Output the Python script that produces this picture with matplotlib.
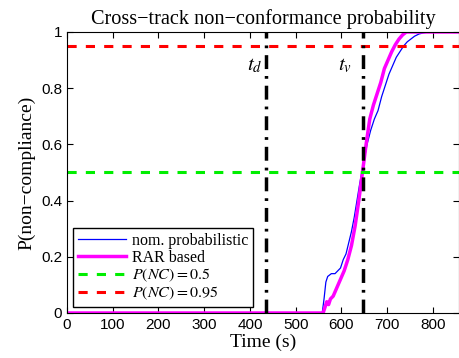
import matplotlib
matplotlib.use("Agg")
import matplotlib.pyplot as plt

# data
t_nom = [0, 558, 562, 566, 570, 578, 586, 592, 598, 604, 610, 616, 622, 628, 634, 640, 648,
         656, 664, 672, 680, 688, 696, 704, 712, 720, 728, 736, 744, 752, 760, 770, 780, 790, 860]
p_nom = [0, 0, 0.05, 0.11, 0.13, 0.14, 0.14, 0.15, 0.16, 0.19, 0.21, 0.25, 0.29, 0.34, 0.40,
         0.46, 0.53, 0.60, 0.65, 0.69, 0.72, 0.77, 0.81, 0.85, 0.88, 0.91, 0.93, 0.95, 0.965,
         0.975, 0.985, 0.993, 0.997, 1.0, 1.0]

t_rar = [0, 560, 564, 568, 572, 576, 582, 590, 598, 606, 614, 622, 630, 638, 646, 654, 662,
         670, 678, 686, 694, 702, 710, 718, 726, 734, 742, 860]
p_rar = [0, 0, 0.02, 0.04, 0.03, 0.05, 0.06, 0.09, 0.12, 0.15, 0.19, 0.24, 0.31, 0.40, 0.50,
         0.60, 0.69, 0.74, 0.78, 0.82, 0.87, 0.90, 0.93, 0.955, 0.975, 0.99, 1.0, 1.0]

t_d = 435
t_v = 647
thresholds = [0.5, 0.95]
threshold_colors = ['#00ee00', '#ff0000']

plt.rcParams['font.family'] = 'Liberation Sans'
plt.rcParams['mathtext.fontset'] = 'stix'

fig = plt.figure(figsize=(4.6, 3.58), dpi=100)
ax = fig.add_axes([0.1457, 0.1257, 0.852, 0.785])

ax.plot(t_nom, p_nom, color='#0000ff', lw=0.9, label='nom. probabilistic')
ax.plot(t_rar, p_rar, color='#ff00ff', lw=2.5, label='RAR based')
for th, c in zip(thresholds, threshold_colors):
    ax.axhline(th, color=c, lw=2.2, ls=(0, (3, 3)), label=r'$P(NC) = %s$' % th)
for tx in [t_d, t_v]:
    ax.axvline(tx, color='black', lw=2.5, ls=(0, (4, 2, 0.8, 2)))

ax.text(410, 0.88, r'$t_d$', fontsize=15, ha='center', va='center')
ax.text(607, 0.88, r'$t_v$', fontsize=15, ha='center', va='center')

ax.set_xlim(0, 857)
ax.set_ylim(0, 1)
ax.set_xticks(range(0, 801, 100))
ax.set_yticks([0, 0.2, 0.4, 0.6, 0.8, 1])
ax.set_yticklabels(['0', '0.2', '0.4', '0.6', '0.8', '1'])
ax.tick_params(direction='in', labelsize=11, top=True, right=True, length=4)

serif = {'family': 'Liberation Serif', 'size': 14}
ax.set_title('Cross\u2212track non\u2212conformance probability',
             fontdict={'family': 'Liberation Serif', 'size': 14.6}, pad=6)
ax.set_xlabel('Time (s)', fontdict=serif, labelpad=1)
ax.set_ylabel('P(non\u2212compliance)', fontdict=serif, labelpad=4)

leg = ax.legend(loc='lower left', bbox_to_anchor=(0.015, 0.022), borderaxespad=0,
                fancybox=False, edgecolor='black', framealpha=1,
                prop={'family': 'Liberation Serif', 'size': 11.5},
                handlelength=3.0, borderpad=0.3, labelspacing=0.05, handletextpad=0.4)
leg.get_frame().set_linewidth(1.0)

fig.savefig('out.png', dpi=100)
